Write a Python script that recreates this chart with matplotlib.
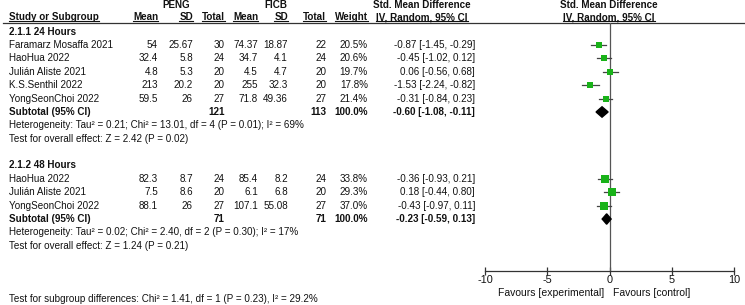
import matplotlib
matplotlib.use('Agg')
import matplotlib.pyplot as plt
from matplotlib.patches import Polygon

plt.rcParams['font.family'] = ['Liberation Sans', 'DejaVu Sans']

# ---- data ----
g1_name = "2.1.1 24 Hours"
g1_studies = ["Faramarz Mosaffa 2021", "HaoHua 2022", "Julián Aliste 2021",
              "K.S.Senthil 2022", "YongSeonChoi 2022"]
g1_peng_mean = ["54", "32.4", "4.8", "213", "59.5"]
g1_peng_sd = ["25.67", "5.8", "5.3", "20.2", "26"]
g1_peng_n = [30, 24, 20, 20, 27]
g1_ficb_mean = ["74.37", "34.7", "4.5", "255", "71.8"]
g1_ficb_sd = ["18.87", "4.1", "4.7", "32.3", "49.36"]
g1_ficb_n = [22, 24, 20, 20, 27]
g1_weight = [20.5, 20.6, 19.7, 17.8, 21.4]
g1_smd = [-0.87, -0.45, 0.06, -1.53, -0.31]
g1_lo = [-1.45, -1.02, -0.56, -2.24, -0.84]
g1_hi = [-0.29, 0.12, 0.68, -0.82, 0.23]
g1_total = (-0.60, -1.08, -0.11)
g1_het = "Heterogeneity: Tau² = 0.21; Chi² = 13.01, df = 4 (P = 0.01); I² = 69%"
g1_eff = "Test for overall effect: Z = 2.42 (P = 0.02)"

g2_name = "2.1.2 48 Hours"
g2_studies = ["HaoHua 2022", "Julián Aliste 2021", "YongSeonChoi 2022"]
g2_peng_mean = ["82.3", "7.5", "88.1"]
g2_peng_sd = ["8.7", "8.6", "26"]
g2_peng_n = [24, 20, 27]
g2_ficb_mean = ["85.4", "6.1", "107.1"]
g2_ficb_sd = ["8.2", "6.8", "55.08"]
g2_ficb_n = [24, 20, 27]
g2_weight = [33.8, 29.3, 37.0]
g2_smd = [-0.36, 0.18, -0.43]
g2_lo = [-0.93, -0.44, -0.97]
g2_hi = [0.21, 0.80, 0.11]
g2_total = (-0.23, -0.59, 0.13)
g2_het = "Heterogeneity: Tau² = 0.02; Chi² = 2.40, df = 2 (P = 0.30); I² = 17%"
g2_eff = "Test for overall effect: Z = 1.24 (P = 0.21)"

subgroup_test = "Test for subgroup differences: Chi² = 1.41, df = 1 (P = 0.23), I² = 29.2%"
x_ticks = [-10, -5, 0, 5, 10]

groups = [
    (g1_name, g1_studies, g1_peng_mean, g1_peng_sd, g1_peng_n, g1_ficb_mean, g1_ficb_sd,
     g1_ficb_n, g1_weight, g1_smd, g1_lo, g1_hi, g1_total, g1_het, g1_eff),
    (g2_name, g2_studies, g2_peng_mean, g2_peng_sd, g2_peng_n, g2_ficb_mean, g2_ficb_sd,
     g2_ficb_n, g2_weight, g2_smd, g2_lo, g2_hi, g2_total, g2_het, g2_eff),
]

# ---- layout (pixels) ----
W, H = 745, 305
fs = 7.1
row0, step = 31.7, 13.38
col_pm, col_psd, col_pn = 158, 193, 225
col_fm, col_fsd, col_fn = 258, 288, 326
col_w, col_ci = 368, 475
plot_l, plot_r, axis_y = 485, 734, 270.5

fig = plt.figure(figsize=(W / 100, H / 100), dpi=100)
tx = fig.add_axes([0, 0, 1, 1])
tx.set_xlim(0, W)
tx.set_ylim(H, 0)
tx.axis('off')

ax = fig.add_axes([plot_l / W, (H - axis_y) / H, (plot_r - plot_l) / W, (axis_y - 23) / H])
ax.set_xlim(-10, 10)
ax.set_ylim(axis_y, 23)
for s in ['left', 'right', 'top']:
    ax.spines[s].set_visible(False)
ax.spines['bottom'].set_color('#333333')
ax.spines['bottom'].set_linewidth(0.9)
ax.set_yticks([])
ax.set_xticks(x_ticks)
ax.set_xticklabels([str(t) for t in x_ticks], fontsize=7.8, color='#111111')
ax.tick_params(axis='x', direction='inout', length=6, width=0.9, color='#333333', pad=0.5)
ax.axvline(0, color='#555555', lw=0.9)
ax.patch.set_alpha(0)

def txt(x, y, s, ha='left', bold=False):
    return tx.text(x, y, s, ha=ha, va='center', fontsize=fs,
                   fontweight='bold' if bold else 'normal', color='#111111')

# headers
txt(176, 4.7, "PENG", ha='center', bold=True)
txt(276, 4.7, "FICB", ha='center', bold=True)
txt(422, 4.7, "Std. Mean Difference", ha='center', bold=True)
txt(609, 4.7, "Std. Mean Difference", ha='center', bold=True)
hdr = [txt(9, 17.3, "Study or Subgroup", bold=True),
       txt(col_pm, 17.3, "Mean", ha='right', bold=True),
       txt(col_psd, 17.3, "SD", ha='right', bold=True),
       txt(col_pn, 17.3, "Total", ha='right', bold=True),
       txt(col_fm, 17.3, "Mean", ha='right', bold=True),
       txt(col_fsd, 17.3, "SD", ha='right', bold=True),
       txt(col_fn, 17.3, "Total", ha='right', bold=True),
       txt(col_w, 17.3, "Weight", ha='right', bold=True),
       txt(422, 17.3, "IV, Random, 95% CI", ha='center', bold=True),
       txt(609, 17.3, "IV, Random, 95% CI", ha='center', bold=True)]
tx.plot([3, W], [22.8, 22.8], color='#333333', lw=0.9)

renderer = fig.canvas.get_renderer()
inv = tx.transData.inverted()
for t in hdr:
    bb = t.get_window_extent(renderer)
    (x0, _), (x1, _) = inv.transform([[bb.x0, 0], [bb.x1, 0]])
    tx.plot([x0, x1], [21.4, 21.4], color='#111111', lw=0.8)

row = 0
for (name, studies, pm, psd, pn, fm, fsd, fn, wts, smd, lo, hi, tot, het, eff) in groups:
    y = row0 + row * step
    txt(9, y, name, bold=True)
    for i, st in enumerate(studies):
        y = row0 + (row + 1 + i) * step
        txt(9, y, st)
        txt(col_pm, y, pm[i], ha='right')
        txt(col_psd, y, psd[i], ha='right')
        txt(col_pn, y, str(pn[i]), ha='right')
        txt(col_fm, y, fm[i], ha='right')
        txt(col_fsd, y, fsd[i], ha='right')
        txt(col_fn, y, str(fn[i]), ha='right')
        txt(col_w, y, f"{wts[i]:.1f}%", ha='right')
        txt(col_ci, y, f"{smd[i]:.2f} [{lo[i]:.2f}, {hi[i]:.2f}]", ha='right')
        ax.plot([lo[i], hi[i]], [y, y], color='#444444', lw=0.9, zorder=2)
        ax.plot(smd[i], y, marker='s', ls='none', color='#19b219',
                markersize=(wts[i] ** 0.5) * 1.0, markeredgewidth=0, zorder=3)
    y = row0 + (row + 1 + len(studies)) * step
    txt(9, y, "Subtotal (95% CI)", bold=True)
    txt(col_pn, y, str(sum(pn)), ha='right', bold=True)
    txt(col_fn, y, str(sum(fn)), ha='right', bold=True)
    txt(col_w, y, "100.0%", ha='right', bold=True)
    txt(col_ci, y, f"{tot[0]:.2f} [{tot[1]:.2f}, {tot[2]:.2f}]", ha='right', bold=True)
    ax.add_patch(Polygon([[tot[1], y], [tot[0], y - 5.2], [tot[2], y], [tot[0], y + 5.2]],
                         closed=True, color='black', zorder=3))
    txt(9, row0 + (row + 2 + len(studies)) * step, het)
    txt(9, row0 + (row + 3 + len(studies)) * step, eff)
    row += len(studies) + 5

txt(9, row0 + 20 * step, subgroup_test)

tx.text(604, 293, "Favours [experimental]", ha='right', va='center', fontsize=7.5, color='#111111')
tx.text(613, 293, "Favours [control]", ha='left', va='center', fontsize=7.5, color='#111111')

fig.savefig('out.png', dpi=100)
